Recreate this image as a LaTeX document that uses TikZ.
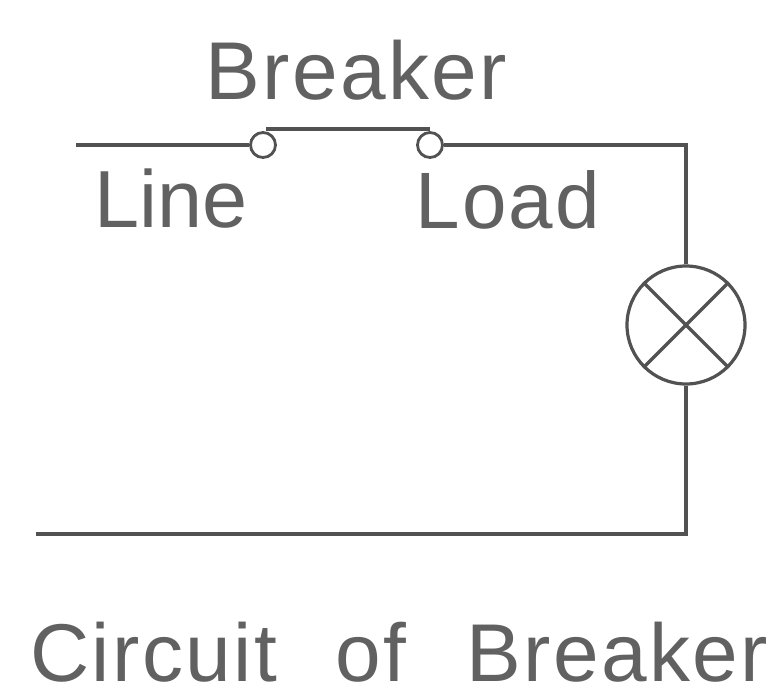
\documentclass[tikz,border=0pt]{standalone}
\usepackage{fontspec}
\setmainfont{Liberation Sans}
\newfontfamily\wide[LetterSpace=3]{Liberation Sans}
\begin{document}
\begin{tikzpicture}[x=1pt,y=-1pt,
  wire/.style={draw=black!68,line width=3.2pt},
  contact/.style={circle,draw=black!68,line width=2.8pt,fill=white,minimum size=25pt,inner sep=0pt},
  lbl/.style={text=black!62,inner sep=0pt,anchor=base west,font=\wide\fontsize{80}{80}\selectfont},
  biglbl/.style={lbl,font=\wide\fontsize{82}{82}\selectfont},
  plainlbl/.style={lbl,font=\rmfamily\fontsize{81}{81}\selectfont}]
\useasboundingbox (0,0) rectangle (771,695);
\fill[white] (0,0) rectangle (771,695);
\node[contact] (c1) at (263,145) {};
\node[contact] (c2) at (430,145) {};
\node[circle,draw=black!68,line width=3.2pt,minimum size=118pt,inner sep=0pt] (lamp) at (686,325) {};
\coordinate (start) at (76,145);
\coordinate (corner) at (686,145);
\coordinate (bc) at (686,534);
\coordinate (end) at (36,534);
\draw[wire] (start) -- (c1.west);
\draw[wire] (c1.north) ++(3,-2) coordinate (bar1) -- (bar1 -| c2.north);
\draw[wire] (c2.east) -- (corner) -- (lamp.north);
\draw[wire] (lamp.south) -- (bc) -- (end);
\draw[wire] (lamp.north west) -- (lamp.south east);
\draw[wire] (lamp.north east) -- (lamp.south west);
\node[biglbl] (t1) at (205,100) {Breaker};
\node[plainlbl] (t2) at (94,228) {Line};
\node[lbl] (t3) at (415,229) {Load};
\node[biglbl] (t4) at (30,681) {Circuit\hspace{58pt}of\hspace{60pt}Breaker};
\end{tikzpicture}
\end{document}
